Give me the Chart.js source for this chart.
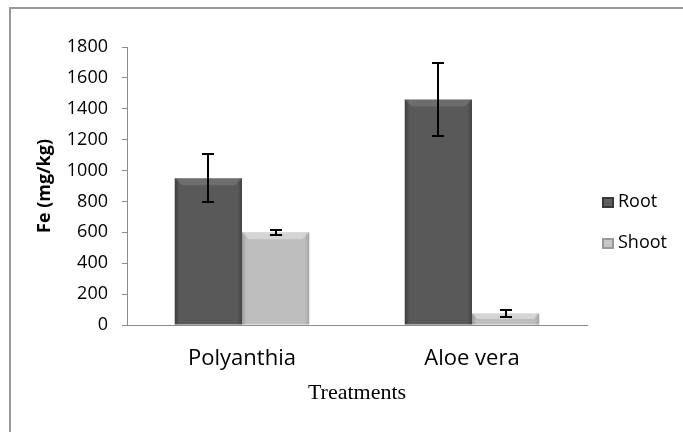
<!DOCTYPE html>
<html>
<head>
<meta charset="utf-8">
<script src="https://cdn.jsdelivr.net/npm/chart.js@4.4.1/dist/chart.umd.min.js"></script>
<style>
  html, body { margin: 0; padding: 0; background: #fff; }
  #wrap { position: relative; width: 683px; height: 432px; overflow: hidden; }
  #frame { position: absolute; left: 9px; top: 7px; width: 700px; height: 460px; border: 2px solid #999; box-sizing: border-box; }
  canvas { position: absolute; left: 0; top: 0; }
</style>
</head>
<body>
<div id="wrap">
  <div id="frame"></div>
  <canvas id="c" width="683" height="432"></canvas>
</div>
<script>
// данные с картинки
var categories = ['Polyanthia', 'Aloe vera'];
var rootVals = [950, 1460];
var rootErr = [155, 235];
var shootVals = [600, 75];
var shootErr = [16, 20];
var seriesNames = ['Root', 'Shoot'];
var yTicks = [0, 200, 400, 600, 800, 1000, 1200, 1400, 1600, 1800];

var CAT_PCT = 0.585;
var SANS = '"Open Sans", "Noto Sans", sans-serif';

// горизонтальный градиент под каждый столбик (цилиндр)
function barFill(dsIndex, stops) {
  return function (ctx) {
    var chart = ctx.chart;
    var xs = chart.scales.x;
    if (!xs || ctx.dataIndex === undefined) return stops[1];
    var cw = (xs.right - xs.left) / categories.length * CAT_PCT;
    var bw = cw / 2;
    var c = xs.getPixelForValue(ctx.dataIndex);
    var x0 = c - cw / 2 + dsIndex * bw;
    if (!isFinite(x0) || !isFinite(bw) || bw <= 0) return stops[1];
    var g = chart.ctx.createLinearGradient(x0, 0, x0 + bw, 0);
    g.addColorStop(0, stops[0]);
    g.addColorStop(0.07, stops[1]);
    g.addColorStop(0.93, stops[1]);
    g.addColorStop(1, stops[2]);
    return g;
  };
}

// светлая фаска сверху столбика
var bevel = {
  id: 'bevel',
  afterDatasetsDraw: function (chart) {
    var ctx = chart.ctx;
    var tones = ['rgba(255,255,255,0.12)', 'rgba(255,255,255,0.35)'];
    ctx.save();
    chart.data.datasets.forEach(function (ds, di) {
      chart.getDatasetMeta(di).data.forEach(function (bar) {
        var l = bar.x - bar.width / 2, r = bar.x + bar.width / 2, t = bar.y;
        var d = Math.min(7, (bar.base - t) / 2);
        ctx.fillStyle = tones[di];
        ctx.beginPath();
        ctx.moveTo(l, t); ctx.lineTo(r, t);
        ctx.lineTo(r - d, t + d); ctx.lineTo(l + d, t + d);
        ctx.closePath();
        ctx.fill();
      });
    });
    ctx.restore();
  }
};

var errorBars = {
  id: 'errorBars',
  afterDatasetsDraw: function (chart) {
    var ctx = chart.ctx;
    var y = chart.scales.y;
    var errs = [rootErr, shootErr];
    ctx.save();
    ctx.strokeStyle = '#000';
    ctx.lineWidth = 2;
    chart.data.datasets.forEach(function (ds, di) {
      var meta = chart.getDatasetMeta(di);
      meta.data.forEach(function (bar, i) {
        var v = ds.data[i], e = errs[di][i];
        var yt = Math.round(y.getPixelForValue(v + e));
        var yb = Math.round(y.getPixelForValue(v - e));
        var x = Math.round(bar.x);
        ctx.beginPath();
        ctx.moveTo(x, yt); ctx.lineTo(x, yb);
        ctx.moveTo(x - 6, yt); ctx.lineTo(x + 6, yt);
        ctx.moveTo(x - 6, yb); ctx.lineTo(x + 6, yb);
        ctx.stroke();
      });
    });
    ctx.restore();
  }
};

// легенда справа, как в исходнике
var sideLegend = {
  id: 'sideLegend',
  afterDraw: function (chart) {
    var ctx = chart.ctx;
    var a = chart.chartArea;
    var cols = [['#3a3a3a', '#606060'], ['#9a9a9a', '#c8c8c8']];
    ctx.save();
    ctx.font = '18px ' + SANS;
    ctx.textBaseline = 'middle';
    seriesNames.forEach(function (name, i) {
      var yy = 202 + i * 41;
      var xx = a.right + 15;
      ctx.fillStyle = cols[i][0];
      ctx.fillRect(xx, yy - 5, 12, 11);
      ctx.fillStyle = cols[i][1];
      ctx.fillRect(xx + 2, yy - 3, 8, 7);
      ctx.fillStyle = '#000';
      ctx.fillText(name, xx + 16, yy);
    });
    ctx.restore();
  }
};

new Chart(document.getElementById('c'), {
  type: 'bar',
  data: {
    labels: categories,
    datasets: [
      { label: seriesNames[0], data: rootVals, backgroundColor: barFill(0, ['#3c3c3c', '#595959', '#444']), borderWidth: 0 },
      { label: seriesNames[1], data: shootVals, backgroundColor: barFill(1, ['#9c9c9c', '#bebebe', '#a4a4a4']), borderWidth: 0 }
    ]
  },
  options: {
    responsive: false,
    animation: false,
    layout: { padding: { left: 0, right: 96, top: 47, bottom: 0 } },
    datasets: { bar: { categoryPercentage: CAT_PCT, barPercentage: 1 } },
    plugins: { legend: { display: false }, tooltip: { enabled: false } },
    scales: {
      x: {
        grid: { display: false, drawTicks: false },
        border: { color: '#8c8c8c', width: 1 },
        ticks: { color: '#000', font: { family: SANS, size: 22 }, padding: 21 },
        title: { display: true, text: 'Treatments', color: '#000', font: { family: '"Liberation Serif", "Times New Roman", serif', size: 22 }, padding: { top: 0, bottom: 26 } },
        afterFit: function (s) { s.height = 107; }
      },
      y: {
        min: 0, max: 1800,
        afterBuildTicks: function (s) { s.ticks = yTicks.map(function (v) { return { value: v }; }); },
        grid: { drawOnChartArea: false, tickLength: 5, color: '#8c8c8c' },
        border: { color: '#8c8c8c', width: 1 },
        ticks: { color: '#000', font: { family: SANS, size: 18 }, padding: 14, callback: function (v) { return String(v); } },
        title: { display: true, text: 'Fe (mg/kg)', color: '#000', font: { family: SANS, size: 18, weight: 'bold' }, padding: { top: 34, bottom: 0 } },
        afterFit: function (s) { s.width = 127; }
      }
    }
  },
  plugins: [bevel, errorBars, sideLegend]
});
</script>
</body>
</html>
